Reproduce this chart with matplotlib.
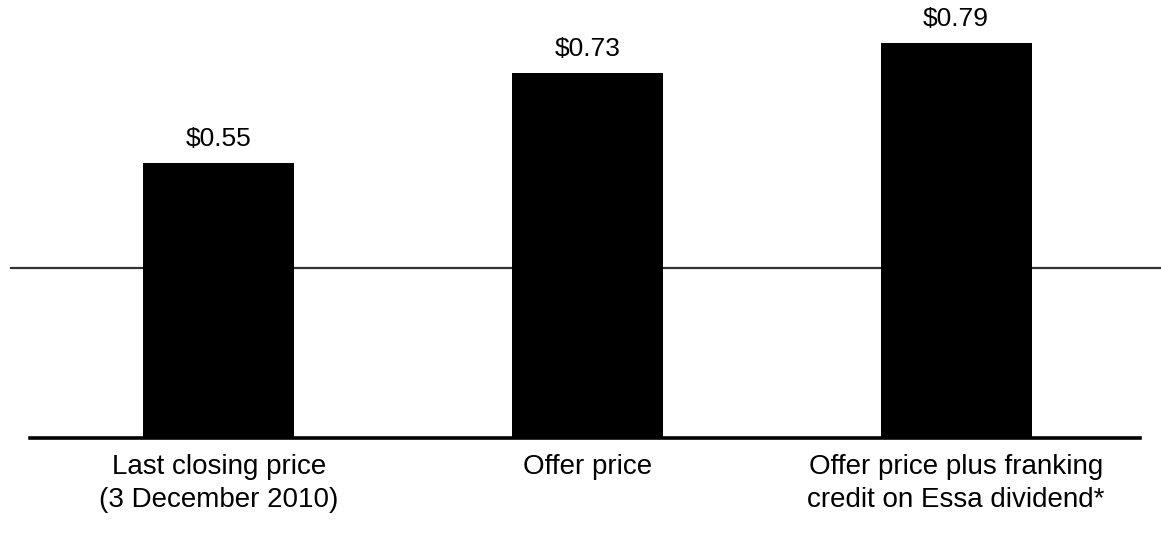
import numpy as np
import matplotlib
matplotlib.use('Agg')
import matplotlib.pyplot as plt

plt.rcParams['font.family'] = ['Liberation Sans', 'DejaVu Sans']

# chart data
categories = ['Last closing price\n(3 December 2010)',
              'Offer price',
              'Offer price plus franking\ncredit on Essa dividend*']
prices = [0.55, 0.73, 0.79]
value_labels = ['$0.55', '$0.73', '$0.79']
ref_level = 0.34


def main():
    ''' Draw the price comparison bar chart '''
    fig = plt.figure(figsize=(11.61, 5.49), dpi=100)
    ax = fig.add_axes([0, 0, 1, 1])
    x = np.arange(len(prices))

    ax.bar(x, prices, width=0.41, color='black', zorder=3)
    # thin reference line across the chart and the heavier base line
    ax.axhline(ref_level, xmin=0.0095, xmax=1.0, color='#333333', lw=1.6, zorder=2)
    ax.axhline(0, xmin=0.026, xmax=0.982, color='black', lw=2.6, zorder=4)

    for xi, p, lab in zip(x, prices, value_labels):
        ax.annotate(lab, (xi, p), xytext=(0, 12), textcoords='offset pixels',
                    ha='center', va='bottom', fontsize=19)
    for xi, cat in zip(x, categories):
        ax.annotate(cat, (xi, 0), xytext=(0, -16), textcoords='offset pixels',
                    ha='center', va='top', fontsize=20, linespacing=1.36)

    ax.set_xlim(-0.594, 2.556)
    ax.set_ylim(-0.222, 0.876)
    ax.axis('off')
    fig.savefig('out.png', dpi=100, facecolor='white')


if __name__ == '__main__':
    main()
